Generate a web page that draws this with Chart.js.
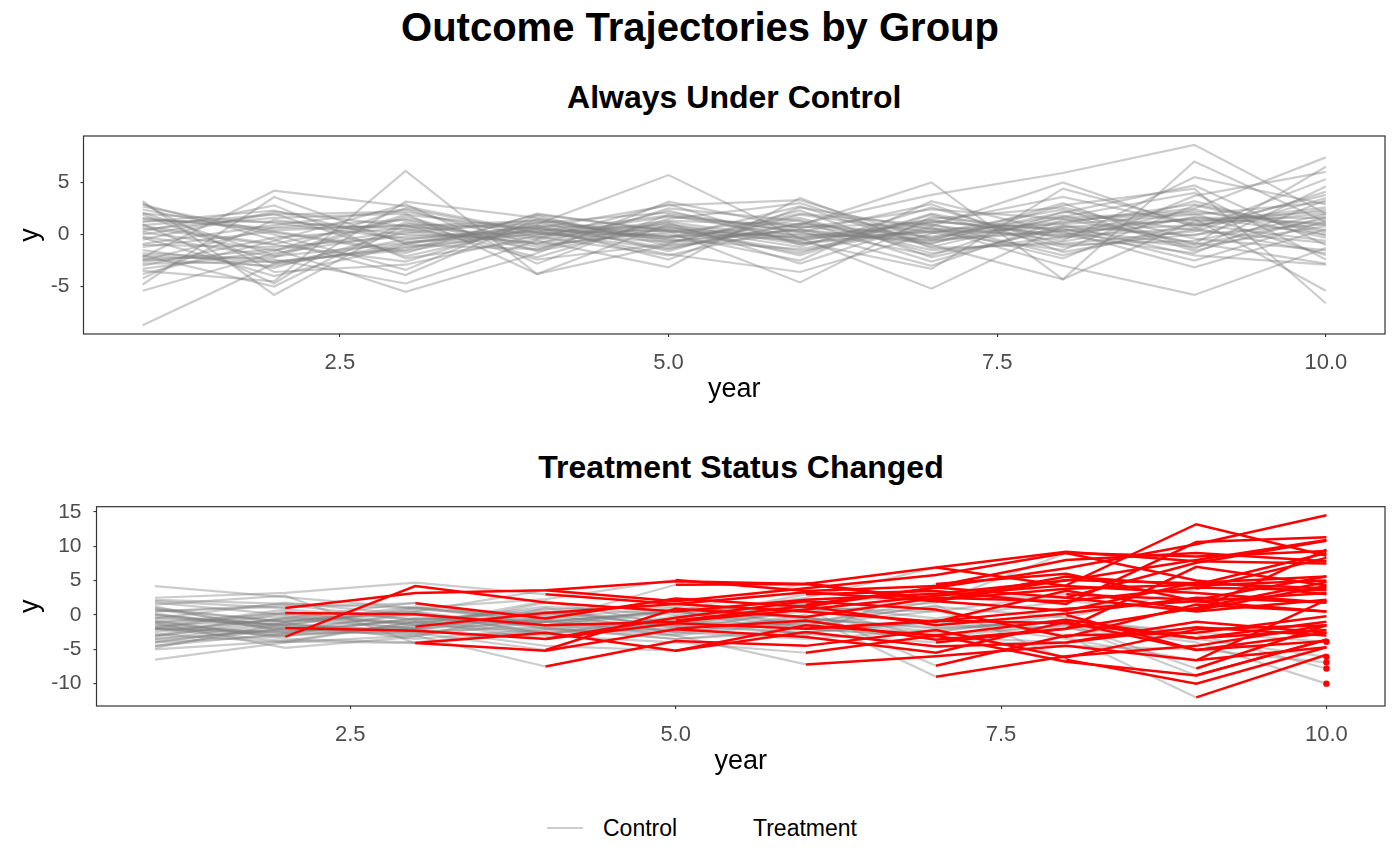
<!DOCTYPE html>
<html>
<head>
<meta charset="utf-8">
<script src="https://cdn.jsdelivr.net/npm/chart.js@4.4.1/dist/chart.umd.min.js"></script>
<style>
  body { margin: 0; width: 1400px; height: 865px; background: #fff; position: relative; overflow: hidden;
         font-family: "Liberation Sans", Arial, Helvetica, sans-serif; }
  .ttl { position: absolute; text-align: center; font-weight: bold; line-height: 1; color: #000; white-space: nowrap; }
  canvas { position: absolute; left: 0; }
  .lab { position: absolute; font-size: 23px; line-height: 1; color: #000; top: 817px; }
  .key { position: absolute; height: 2px; top: 827px; }
</style>
</head>
<body>
<div class="ttl" style="left:0;width:1400px;top:7px;font-size:40px">Outcome Trajectories by Group</div>
<div class="ttl" style="left:83.5px;width:1301.5px;top:81px;font-size:32px">Always Under Control</div>
<div class="ttl" style="left:96.5px;width:1289px;top:451px;font-size:32px">Treatment Status Changed</div>
<canvas id="top" width="1400" height="300" style="top:110px"></canvas>
<canvas id="bottom" width="1400" height="310" style="top:480px"></canvas>
<span class="key" style="left:547px;width:36px;background:rgba(127,127,127,0.4)"></span>
<span class="lab" style="left:603px">Control</span>
<span class="key" style="left:700px;width:36px;background:transparent"></span>
<span class="lab" style="left:753px">Treatment</span>
<script>
// years observed for every unit
const years = [1, 2, 3, 4, 5, 6, 7, 8, 9, 10];
const xTicks = [2.5, 5, 7.5, 10];
const yTicksTop = [-5, 0, 5];
const yTicksBottom = [-10, -5, 0, 5, 10, 15];

// units that are never treated (one row = one unit, values for years 1..10)
const alwaysControl = [
  [-8.7, -2.8, -0.5, 0.8, 0.3, -0.6, 1.2, 0.5, -1.0, 1.5],
  [-3.5, -4.5, 6.1, -3.8, -1.0, 0.5, -0.8, 1.6, 2.2, 0.9],
  [0.2, -1.5, 0.4, 1.0, 5.7, -0.4, 1.4, -0.2, 0.6, -1.8],
  [1.5, 0.6, 0.8, -0.3, 1.3, 1.0, 3.8, 5.9, 8.6, 2.0],
  [-1.2, 0.3, -1.6, 0.5, -0.2, 0.9, 5.0, -4.3, 7.0, 1.2],
  [2.0, 1.1, -0.4, 0.2, 0.9, -0.9, 0.3, 1.2, 2.5, 7.4],
  [-0.5, 2.2, 0.8, 1.3, -0.6, 0.4, -0.9, 2.8, 4.4, -6.6],
  [0.8, -0.9, 1.5, -1.2, 0.5, -1.6, 0.6, -3.0, -5.8, -1.3],
  [3.2, -5.8, 1.0, 0.6, 2.8, 3.3, -0.5, 0.4, 1.5, -5.4],
  [-2.2, 4.2, 2.7, 0.2, -1.4, 1.1, -0.2, 1.8, -0.9, 6.5],
  [-4.8, 3.6, -0.9, 0.9, 0.6, -0.3, -5.2, 0.8, -0.1, 3.5],
  [1.0, -4.7, 3.15, 1.6, -0.8, 2.0, 0.9, -0.6, 5.5, 2.9],
  [-2.6, -1.4, -5.5, -1.8, 3.15, 0.6, 2.4, 1.5, -0.8, -2.8],
  [2.7, 0.2, -1.8, 2.0, 0.3, -4.6, 1.7, 0.3, -3.15, 0.5],
  [-1.8, -2.4, -4.7, -0.6, -3.15, 3.5, -1.3, -0.9, 0.3, 4.1],
  [0.5, 1.6, 2.0, -3.8, 1.0, -0.7, -3.3, 4.4, 1.0, -0.6],
  [-3.0, -0.3, 0.6, 1.1, 2.1, 0.2, 2.9, -1.7, 0.5, 5.3],
  [1.9, -2.8, -1.2, 0.4, -1.9, -3.6, 0.1, 2.4, -1.6, 1.7],
  [-0.9, 0.9, 2.4, -1.0, 0.2, 1.6, -1.8, -0.2, 3.2, -0.1],
  [3.0, -3.6, -2.9, -0.1, 1.7, 0.7, 1.1, 3.6, 0.9, 2.4],
  [-5.4, -1.8, 0.1, 1.4, -0.5, -1.4, 0.7, -2.3, 2.8, 0.2],
  [-2.3, -2.2, 1.7, -1.5, 2.5, 1.3, -2.6, 0.9, -2.0, -2.9],
  [0.0, 2.0, -2.1, 0.7, -2.4, 2.6, 0.5, 1.0, 1.9, 3.1],
  [-1.5, -3.2, 0.3, -0.8, 0.8, -2.0, 1.9, -1.2, 0.0, 1.0],
  [2.4, 0.0, -3.4, 1.8, -1.1, 0.0, -0.4, 2.1, 4.7, -1.0],
  [-2.0, -5.0, 1.2, -2.2, 1.5, 3.0, -1.0, -4.3, 1.3, 2.2],
  [1.2, 2.3, -0.7, 0.0, 0.0, -2.5, 3.2, 0.1, -1.2, 0.8],
  [-3.8, -0.6, 2.9, -2.8, 1.9, 0.3, -3.0, 1.4, 2.0, -2.0],
  [0.6, -1.0, -2.6, 1.2, -1.6, 1.9, 0.2, -1.5, 3.7, 6.0],
  [-4.2, 1.4, 0.0, -0.4, 2.9, -1.0, 1.5, 2.6, -0.4, -1.5],
  [2.1, -2.0, 1.9, 0.5, -0.4, 1.4, -1.5, -0.7, 1.7, 0.0],
  [-0.3, -4.0, -1.0, -1.4, 1.2, -0.5, 0.8, 5.0, 0.7, 3.8],
  [1.6, 0.4, 0.9, -2.4, -0.9, 2.3, -2.2, 0.6, -2.5, 1.3],
  [-2.8, -2.6, -1.5, 1.9, 0.4, -1.8, 2.0, -0.4, 2.4, -0.3],
  [0.9, 1.9, 2.2, -0.2, -2.0, 0.8, -0.6, 3.0, -1.4, 4.6],
  [-1.0, -1.2, -0.2, 0.3, 1.8, -0.2, 1.0, -2.0, 1.1, 2.6],
  [2.9, -0.5, -3.9, 1.5, -0.3, 2.7, -1.2, 1.7, 4.0, -2.4],
  [-2.5, 0.7, 1.4, -1.6, 0.7, -1.2, 2.6, -1.0, -0.6, 1.9],
  [-0.2, -2.1, -0.8, 0.8, -1.3, 1.0, -0.3, 1.1, 2.9, 0.4],
  [1.3, 1.2, 0.5, -0.9, 2.3, -0.8, 0.4, -0.1, -1.8, 3.3],
  [-3.3, -1.6, 2.5, 0.1, -0.7, 0.5, -2.0, 2.2, 0.4, -0.8],
  [0.3, 2.8, -2.3, -0.5, 1.1, -2.8, 1.3, 0.0, 1.6, 1.6],
  [-2.4, -3.0, -0.9, 0.6, -0.2, 0.1, -0.6, 0.3, 0.9, 2.0],
  [-2.0, -2.6, -1.3, 0.1, 0.4, -0.3, 0.2, 0.7, 1.4, 1.1]
];

// units whose status switches: first treated year, then values for years 1..10
const switchStart = [2, 2, 2, 2, 3, 3, 3, 3, 4, 4, 4, 4, 4, 5, 5, 5, 5, 5,
                     6, 6, 6, 6, 6, 6, 7, 7, 7, 7, 7, 7, 8, 8, 8, 8, 8, 8,
                     9, 9, 9, 9, 9, 9, 10, 10, 10, 10, 10];
const switchValues = [
  [-1.0, -3.2, 4.2, 1.8, 0.5, 2.2, 3.1, 5.0, 8.0, 10.9],
  [2.0, 1.0, 3.2, 3.6, 4.9, 4.5, 6.9, 9.2, 7.8, 7.5],
  [-3.0, 0.3, 0.1, -1.5, -1.0, 0.8, 2.8, 4.3, 13.2, 8.6],
  [-4.5, -1.9, -2.3, -3.5, -1.2, -2.0, -0.9, 0.9, 2.0, 3.2],
  [0.5, 1.2, 1.7, -0.5, 2.4, 1.2, 4.0, 6.8, 10.3, 14.5],
  [-2.0, -2.5, -1.7, 0.3, 1.6, 3.3, 2.0, 0.6, 4.7, 5.6],
  [-5.0, -3.8, -4.1, -2.6, -5.2, -1.5, -3.0, -0.7, -3.4, -1.0],
  [1.5, 2.8, -4.1, -5.2, -2.1, -3.2, -5.5, -1.0, -5.1, -2.6],
  [-1.5, -0.8, 0.5, 3.6, 2.0, 3.9, 5.8, 9.0, 8.5, 9.3],
  [-3.5, -1.2, -2.6, -5.1, 0.9, -0.3, 2.5, 2.0, 4.0, 3.6],
  [0.0, -2.0, -3.0, -7.5, -3.8, -4.5, -2.2, -6.2, -2.1, -1.5],
  [2.5, 3.2, 4.7, 3.0, 1.6, 0.5, -1.0, 3.5, 0.7, 4.2],
  [-2.8, -4.0, -1.0, -3.5, -0.4, 2.0, 0.8, -3.2, 1.5, 0.5],
  [-0.5, -1.5, 1.0, 2.3, 5.1, 3.5, 4.2, 8.0, 9.0, 7.8],
  [-2.0, 0.5, -1.5, -0.8, 4.4, 4.5, 2.1, 5.6, 4.3, 5.0],
  [-4.0, -3.0, -2.0, -4.5, -5.2, -2.5, -4.6, -4.0, -1.8, -3.0],
  [1.0, -1.0, 0.2, -1.8, -0.8, 1.3, -1.5, 0.2, 2.5, 1.8],
  [-1.2, -4.8, -3.2, 1.0, -2.0, -0.8, -3.6, -2.0, 7.0, 4.3],
  [0.2, -2.2, -2.0, -1.0, 0.5, 4.6, 2.2, 3.8, 4.4, 9.0],
  [-3.0, -1.0, 0.5, -2.0, -3.0, -7.2, -6.0, -4.5, -6.6, -4.7],
  [-1.8, 0.8, -0.6, 0.4, -1.6, 1.5, 4.0, 2.5, 0.5, 2.2],
  [2.2, 1.6, 1.0, 0.0, 2.1, -2.0, -0.8, -1.2, -3.4, -2.2],
  [-4.5, -2.7, -2.5, -3.0, -4.0, -5.5, -3.0, -6.8, -8.8, -3.6],
  [-0.8, -3.5, -4.0, -2.2, -0.5, 3.0, 3.5, 1.6, 10.6, 11.3],
  [-1.0, 0.2, -1.2, 1.2, 0.0, 2.5, 6.9, 4.2, 3.2, 1.8],
  [-2.5, -0.5, 1.8, -1.5, -2.8, 0.0, -9.0, -6.0, -4.5, -1.5],
  [0.8, -1.8, -2.8, -0.4, 1.0, -1.2, 2.0, 5.1, 4.6, 3.9],
  [-3.8, -2.0, 0.0, -2.5, -1.0, -2.8, -4.0, -2.0, 1.0, 4.8],
  [1.8, 0.0, -1.5, 2.0, -1.5, 0.8, -7.4, -3.0, -2.6, -0.2],
  [-1.5, -2.6, -0.5, -1.0, 0.7, -3.0, 4.5, 6.0, 2.0, 0.5],
  [-0.3, -1.4, 0.8, -0.2, -1.8, 0.5, 1.8, 9.0, 5.0, 3.0],
  [-2.2, -0.6, -2.0, 1.8, 0.5, -1.5, 1.4, -6.5, -10.0, -4.7],
  [1.2, -2.5, 0.4, -2.8, -1.2, 1.8, 2.8, 2.5, 7.6, 10.8],
  [-4.8, -1.2, -3.5, -2.0, -3.5, -2.0, -3.2, -4.0, -1.0, -2.6],
  [0.5, 1.5, -0.8, 0.8, 1.2, -0.4, -2.5, 0.0, -5.1, -3.8],
  [-2.0, -3.8, -1.0, -0.5, -2.4, 1.0, 0.5, 3.0, 2.2, 5.6],
  [-1.2, -0.2, -2.0, 0.5, -1.0, -1.5, 0.6, -3.0, -12.0, -5.8],
  [-3.5, -2.2, -0.8, -2.6, -2.0, -0.5, -1.8, -1.2, -7.8, -1.5],
  [0.8, -1.0, 1.2, -1.5, 0.4, 1.5, -0.5, 2.0, 0.6, 9.5],
  [-2.0, -3.0, -1.5, 0.2, -2.5, -1.0, 1.2, -0.4, 3.8, 8.3],
  [-0.5, 1.8, 0.0, -1.0, 0.5, -2.0, -3.2, -1.5, -8.8, -3.6],
  [-4.0, -1.6, -2.4, -1.8, -3.5, -2.5, -1.0, -3.5, -6.6, 2.2],
  [-1.8, -2.8, -0.5, -1.5, 0.8, -0.5, -2.0, -0.8, -2.5, -3.9],
  [0.0, -1.5, -2.2, 0.4, -1.6, -2.6, -1.0, -2.0, -3.5, -6.1],
  [-3.2, -0.4, -1.2, -2.8, -0.2, 1.2, -3.5, -4.5, -5.0, -6.9],
  [-6.5, -4.0, -3.0, -1.0, -2.5, -3.5, -2.2, -0.8, -2.8, -7.8],
  [4.2, 2.6, 1.0, -0.8, -3.0, -1.0, -2.8, -1.5, -4.0, -10.0]
];

const FONT = '"Liberation Sans", Arial, Helvetica, sans-serif';
const GREY = 'rgba(127,127,127,0.4)';
const RED = '#FF0000';

const panelBox = {
    id: 'panelBox',
    afterDatasetsDraw(chart) {
        const { ctx, chartArea: a } = chart;
        ctx.save();
        ctx.strokeStyle = '#333333';
        ctx.lineWidth = 1.2;
        ctx.strokeRect(a.left, a.top, a.right - a.left, a.bottom - a.top);
        ctx.restore();
    }
};

function tickGrid() {
    return { drawOnChartArea: false, drawTicks: true, tickLength: 3, color: '#333333', lineWidth: 1.1 };
}

function makeOptions(cfg) {
    return {
        responsive: false,
        animation: false,
        events: [],
        layout: { padding: { top: cfg.padTop, right: 15, left: 0, bottom: 0 } },
        plugins: { legend: { display: false }, tooltip: { enabled: false } },
        scales: {
            x: {
                type: 'linear', min: 0.55, max: 10.45,
                afterBuildTicks: s => { s.ticks = xTicks.map(v => ({ value: v })); },
                afterFit: s => { s.height = cfg.xHeight; },
                grid: tickGrid(),
                border: { display: false },
                ticks: { color: '#4d4d4d', font: { family: FONT, size: 22 }, padding: 12.5,
                         maxRotation: 0, autoSkip: false, callback: v => v.toFixed(1) },
                title: { display: true, text: 'year', color: '#000',
                         font: { family: FONT, size: 27, lineHeight: 1.2 },
                         padding: { top: 0, bottom: cfg.yearPad } }
            },
            y: {
                type: 'linear', min: cfg.yMin, max: cfg.yMax,
                afterBuildTicks: s => { s.ticks = cfg.yTicks.map(v => ({ value: v })); },
                afterFit: s => { s.width = cfg.yWidth; },
                grid: tickGrid(),
                border: { display: false },
                ticks: { color: '#4d4d4d', font: { family: FONT, size: 21 }, padding: cfg.yPad,
                         autoSkip: false, callback: v => String(v) },
                title: { display: true, text: 'y', color: '#000',
                         font: { family: FONT, size: 27, lineHeight: 1.2 },
                         padding: { top: 14.8, bottom: 0 } }
            }
        }
    };
}

function toPoints(row) {
    return row.map((v, i) => ({ x: years[i], y: v }));
}

// top panel: every unit stays in control
const controlSets = alwaysControl.map(row => ({
    data: toPoints(row),
    borderColor: GREY,
    borderWidth: 2.2,
    pointRadius: 0,
    fill: false,
    tension: 0
}));

new Chart(document.getElementById('top'), {
    type: 'line',
    data: { datasets: controlSets },
    options: makeOptions({ padTop: 26, xHeight: 76, yearPad: 3.8, yMin: -9.55, yMax: 9.45,
                           yTicks: yTicksTop, yWidth: 83.5, yPad: 11 }),
    plugins: [panelBox]
});

// bottom panel: grey before the switch, red from the first treated year on
const switchSets = switchValues.map((row, u) => {
    const start = switchStart[u];
    return {
        data: toPoints(row),
        borderColor: start >= 10 ? GREY : RED,
        borderWidth: 2.4,
        segment: {
            borderColor: ctx => ctx.p0.parsed.x >= start ? RED : GREY,
            borderWidth: ctx => ctx.p0.parsed.x >= start ? 2.5 : 2.2
        },
        pointRadius: row.map((v, i) => (start === 10 && years[i] === 10) ? 3.2 : 0),
        pointBackgroundColor: RED,
        pointBorderWidth: 0,
        fill: false,
        tension: 0
    };
});

new Chart(document.getElementById('bottom'), {
    type: 'line',
    data: { datasets: switchSets },
    options: makeOptions({ padTop: 26.7, xHeight: 84, yearPad: 11.8, yMin: -13.25, yMax: 15.75,
                           yTicks: yTicksBottom, yWidth: 96.5, yPad: 12 }),
    plugins: [panelBox]
});
</script>
</body>
</html>
